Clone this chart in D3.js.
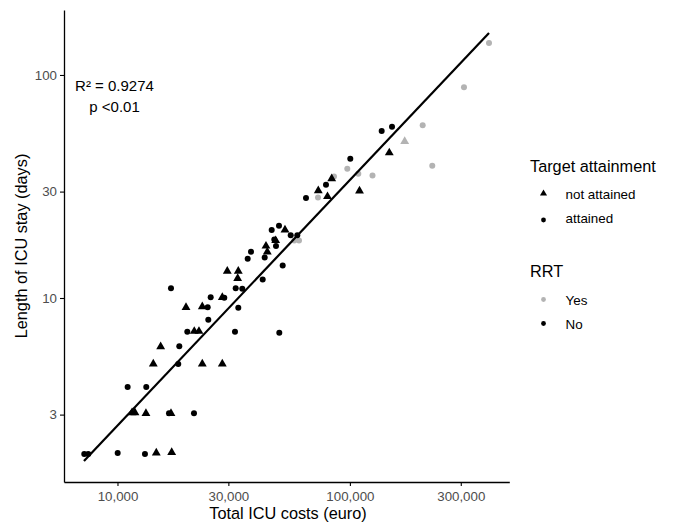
<!DOCTYPE html>
<html>
<head>
<meta charset="utf-8">
<script src="https://cdn.jsdelivr.net/npm/d3@7"></script>
<style>
  html, body { margin: 0; padding: 0; background: #ffffff; }
  svg { display: block; font-family: "Liberation Sans", Arial, Helvetica, sans-serif; }
</style>
</head>
<body>
<div id="chart"></div>
<script>
// ---- data ----
// Not attained, RRT = No (black triangles): [total ICU cost (euro), length of stay (days)]
const notAttainedNoRRT = [
  [14260,5.06],[23170,5.06],[28250,5.06],[11550,3.06],[11890,3.06],[13260,3.04],[16990,3.04],
  [14690,2.02],[17110,2.03],[15340,6.05],[19720,9.08],[21400,7.09],[22420,7.09],[23170,9.14],
  [28250,10.07],[29680,13.2],[33100,13.2],[32900,12.25],[52570,20.2],[47940,18.1],[43550,17.1],
  [44120,16.1],[147750,44.8],[110000,30.2],[73110,30.3],[80100,28.5],[83510,34.3]
];
// Attained, RRT = No (black circles)
const attainedNoRRT = [
  [7196,2.0],[7487,2.0],[10020,2.02],[13130,2.0],[11060,3.99],[13300,3.99],[18260,5.06],
  [16660,3.04],[21340,3.04],[16990,11.05],[18450,6.07],[19970,7.06],[24440,9.08],[24590,7.99],
  [25180,10.07],[28810,10.03],[32260,11.05],[34440,11.0],[33100,9.05],[32030,7.06],[36330,15.0],
  [37540,16.1],[46080,20.2],[49540,21.1],[55640,19.1],[59390,19.1],[47290,18.3],[48090,17.1],
  [42990,15.2],[51390,14.0],[42150,12.1],[49690,6.99],[64730,28.1],[78920,32.2],[100400,42.1],
  [137000,56.1],[151800,58.6]
];
// Attained, RRT = Yes (grey circles)
const attainedRRT = [
  [396800,139],[309700,88.1],[205700,59.5],[226200,39.2],[97460,38.0],[108700,36.1],
  [125100,35.4],[85430,35.1],[72900,28.2],[57650,18.1],[60400,18.1]
];
// Not attained, RRT = Yes (grey triangles)
const notAttainedRRT = [
  [172100,50.4]
];
// Regression line end points
const fitLine = [[7175,1.858],[396800,154.2]];

const xTicks = [10000, 30000, 100000, 300000];
const yTicks = [3, 10, 30, 100];
const legendTarget = ["not attained", "attained"];
const legendRRT = ["Yes", "No"];
const annotation = ["R\u00B2 = 0.9274", "p <0.01"];

// ---- drawing ----
const W = 681, H = 523;
const panel = { left: 64, right: 509.3, top: 10, bottom: 482 };
const BLACK = "#000000", GREY = "#b3b3b3";

const svg = d3.select("#chart").append("svg")
  .attr("width", W).attr("height", H);
svg.append("rect").attr("width", W).attr("height", H).attr("fill", "#ffffff");

const x = d3.scaleLog().domain([5887, 485200]).range([panel.left, panel.right]);
const y = d3.scaleLog().domain([1.496, 195.6]).range([panel.bottom, panel.top]);

// axes
const xAxis = svg.append("g")
  .attr("transform", `translate(0,${panel.bottom})`)
  .call(d3.axisBottom(x).tickValues(xTicks).tickFormat(d3.format(",")).tickSize(4).tickSizeOuter(0));
const yAxis = svg.append("g")
  .attr("transform", `translate(${panel.left},0)`)
  .call(d3.axisLeft(y).tickValues(yTicks).tickFormat(d3.format("d")).tickSize(4).tickSizeOuter(0));

[xAxis, yAxis].forEach(g => {
  g.select(".domain").attr("stroke", BLACK).attr("stroke-width", 1.3);
  g.selectAll(".tick line").attr("stroke", BLACK).attr("stroke-width", 1.1);
  g.selectAll(".tick text").attr("fill", "#4d4d4d")
    .style("font-size", "13.3px").style("font-family", "Liberation Sans, Arial, sans-serif");
});
xAxis.selectAll(".tick text").attr("dy", "0.95em").attr("y", 6);
yAxis.selectAll(".tick text").attr("x", -7);

// axis titles
svg.append("text").attr("x", 288).attr("y", 519)
  .attr("text-anchor", "middle").style("font-size", "16.3px").attr("fill", BLACK)
  .text("Total ICU costs (euro)");
svg.append("text")
  .attr("transform", `translate(27,${(panel.top + panel.bottom) / 2}) rotate(-90)`)
  .attr("text-anchor", "middle").style("font-size", "16.3px").attr("fill", BLACK)
  .text("Length of ICU stay (days)");

// points
const tri = d3.symbol().type(d3.symbolTriangle).size(34);
function drawCircles(data, color) {
  svg.append("g").selectAll("circle").data(data).join("circle")
    .attr("cx", d => x(d[0])).attr("cy", d => y(d[1])).attr("r", 3).attr("fill", color);
}
function drawTriangles(data, color) {
  svg.append("g").selectAll("path").data(data).join("path")
    .attr("d", tri).attr("transform", d => `translate(${x(d[0])},${y(d[1])})`).attr("fill", color);
}
drawCircles(attainedRRT, GREY);
drawTriangles(notAttainedRRT, GREY);
drawCircles(attainedNoRRT, BLACK);
drawTriangles(notAttainedNoRRT, BLACK);

// regression line
svg.append("path").datum(fitLine)
  .attr("d", d3.line().x(d => x(d[0])).y(d => y(d[1])))
  .attr("fill", "none").attr("stroke", BLACK).attr("stroke-width", 2.2);

// annotation
svg.append("text").attr("x", 114.5).attr("y", 91).attr("text-anchor", "middle")
  .style("font-size", "15px").attr("fill", BLACK).text(annotation[0]);
svg.append("text").attr("x", 114.5).attr("y", 112).attr("text-anchor", "middle")
  .style("font-size", "15px").attr("fill", BLACK).text(annotation[1]);

// legend
const lg = svg.append("g");
lg.append("text").attr("x", 530).attr("y", 172).style("font-size", "16.3px").attr("fill", BLACK)
  .text("Target attainment");
const smallTri = d3.symbol().type(d3.symbolTriangle).size(22);
lg.append("path").attr("d", smallTri).attr("transform", "translate(543.5,193.5)").attr("fill", BLACK);
lg.append("circle").attr("cx", 543.5).attr("cy", 220).attr("r", 2.4).attr("fill", BLACK);
lg.selectAll("text.t").data(legendTarget).join("text").attr("class", "t")
  .attr("x", 565.5).attr("y", (d, i) => 199 + i * 24).style("font-size", "13.4px").attr("fill", BLACK)
  .text(d => d);

lg.append("text").attr("x", 530).attr("y", 277).style("font-size", "16.3px").attr("fill", BLACK)
  .text("RRT");
lg.append("circle").attr("cx", 543.5).attr("cy", 299.5).attr("r", 2.4).attr("fill", GREY);
lg.append("circle").attr("cx", 543.5).attr("cy", 323.5).attr("r", 2.4).attr("fill", BLACK);
lg.selectAll("text.r").data(legendRRT).join("text").attr("class", "r")
  .attr("x", 565.5).attr("y", (d, i) => 304.5 + i * 24).style("font-size", "13.4px").attr("fill", BLACK)
  .text(d => d);
</script>
</body>
</html>
